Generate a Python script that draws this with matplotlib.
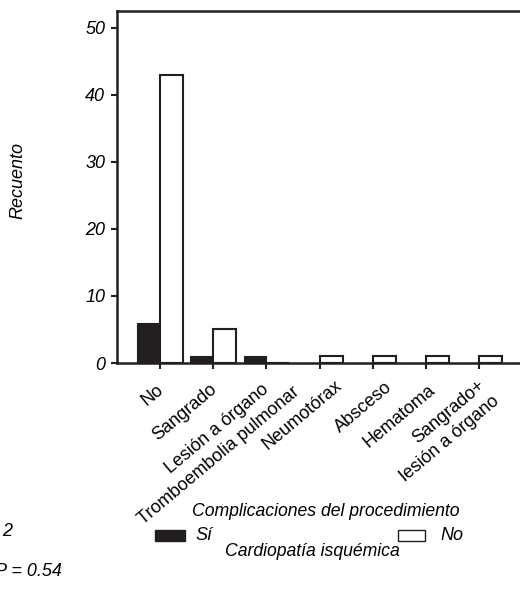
import numpy as np
import matplotlib
matplotlib.use("Agg")
import matplotlib.pyplot as plt
from matplotlib.patches import Rectangle

plt.rcParams["font.family"] = ["Liberation Sans", "DejaVu Sans"]

# Counts per complication, split by ischaemic heart disease
categories = ["No", "Sangrado", "Lesión a órgano", "Tromboembolia pulmonar",
              "Neumotórax", "Absceso", "Hematoma", "Sangrado+\nlesión a órgano"]
si_counts = [6, 1, 1, 0, 0, 0, 0, 0]
no_counts = [43, 5, 0, 1, 1, 1, 1, 1]
y_ticks = [0, 10, 20, 30, 40, 50]

# where each rotated category label sits (data x, data y)
label_x = [0.02, 1.02, 2.01, 2.58, 3.38, 4.32, 5.13, 6.2]
label_y = [-3.7, -3.6, -3.6, -4.0, -3.0, -3.3, -3.7, -4.2]

ink = "#231f20"
fs = 13
W, H = 520, 590
fig = plt.figure(figsize=(W / 100, H / 100), dpi=100)
ax = fig.add_axes([117 / W, 1 - 363 / H, (575.5 - 117) / W, (363 - 11) / H])

x = np.arange(len(categories))
w = 0.43
ax.bar(x - w, si_counts, width=w, align="edge", color=ink, edgecolor=ink, linewidth=0.8, zorder=2)
ax.bar(x, no_counts, width=w, align="edge", color="white", edgecolor=ink, linewidth=1.5, zorder=2)

ax.set_xlim(-0.81, len(categories) - 1 + 0.81)
ax.set_ylim(0, 52.5)
ax.set_yticks(y_ticks)
ax.set_yticklabels([str(t) for t in y_ticks], fontstyle="italic", fontsize=fs)
ax.set_xticks(x)
ax.set_xticklabels([])
for side in ["left", "bottom", "top"]:
    ax.spines[side].set_linewidth(1.8)
    ax.spines[side].set_color(ink)
ax.spines["right"].set_visible(False)
ax.tick_params(axis="both", direction="out", length=4.5, width=1.5, color=ink, pad=4)

for xi, yi, lab in zip(label_x, label_y, categories):
    ax.text(xi, yi, lab, rotation=40, rotation_mode="anchor", ha="right", va="center",
            multialignment="right", fontsize=fs, clip_on=False, linespacing=1.3)

fig.text(18 / W, 1 - 181 / H, "Recuento", rotation=90, fontstyle="italic", fontsize=fs,
         ha="center", va="center")

fig.text(326 / W, 1 - 512 / H, "Complicaciones del procedimiento", fontstyle="italic",
         fontsize=12.7, ha="center", va="center")

# legend drawn by hand below the x title
fig.patches.append(Rectangle((155 / W, 1 - 541 / H), 30 / W, 11 / H, transform=fig.transFigure,
                             facecolor=ink, edgecolor=ink, linewidth=1))
fig.text(195 / W, 1 - 535 / H, "Sí", fontstyle="italic", fontsize=fs, va="center")
fig.patches.append(Rectangle((398 / W, 1 - 541 / H), 27 / W, 11 / H, transform=fig.transFigure,
                             facecolor="white", edgecolor=ink, linewidth=1))
fig.text(440 / W, 1 - 535 / H, "No", fontstyle="italic", fontsize=fs, va="center")
fig.text(312 / W, 1 - 552 / H, "Cardiopatía isquémica", fontstyle="italic",
         fontsize=12.7, ha="center", va="center")

fig.text(12 / W, 1 - 532 / H, "2", fontstyle="italic", fontsize=fs, ha="right", va="center")
fig.text(62 / W, 1 - 572 / H, "P = 0.54", fontstyle="italic", fontsize=fs, ha="right", va="center")

fig.savefig("out.png", dpi=100)
